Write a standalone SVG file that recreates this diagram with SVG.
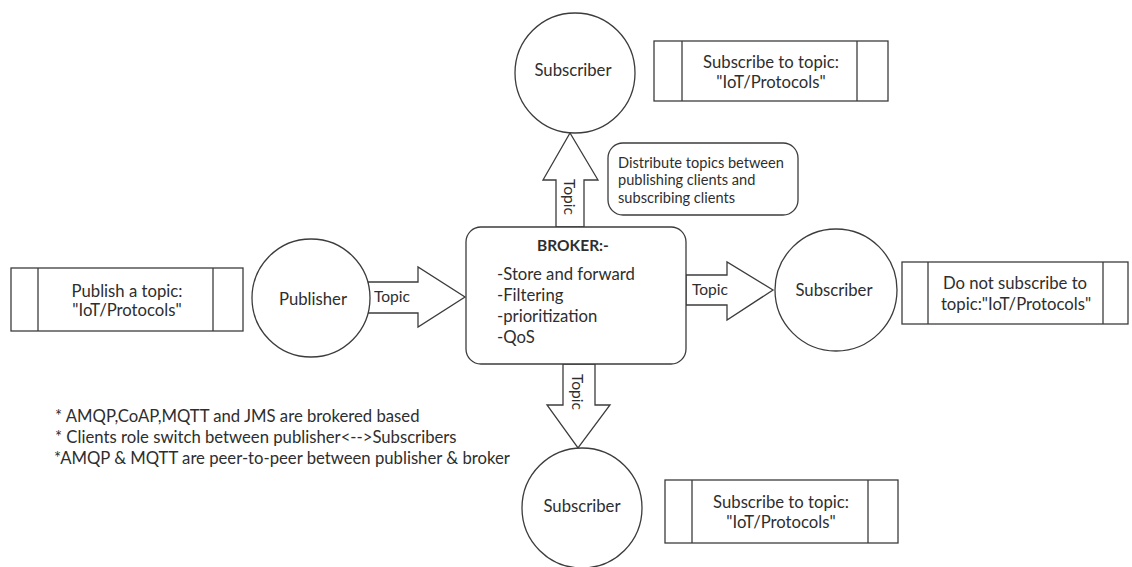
<svg xmlns="http://www.w3.org/2000/svg" width="1132" height="567" viewBox="0 0 1132 567">
  <style>
    .shape { fill: #ffffff; stroke: #3c3c3c; stroke-width: 1.3; }
    .div { stroke: #3c3c3c; stroke-width: 1.3; fill: none; }
    .lbl { font-family: Lato, "Liberation Sans", sans-serif; font-size: 16.7px; fill: #2e2e2e; }
    .mid { text-anchor: middle; }
    .bold { font-weight: bold; font-size: 15.5px; }
    .small { font-size: 14.6px; }
    .tag { font-size: 15.6px; }
  </style>
  <rect width="1132" height="567" fill="#ffffff"/>

  <!-- connectors: block arrows carrying topics -->
  <g id="connectors">
    <g id="arrow-publisher-broker">
      <polygon class="shape" points="368,282 418,282 418,267 465,297 418,327 418,313 368,313"/>
      <text class="lbl tag mid" x="392" y="302">Topic</text>
    </g>
    <g id="arrow-broker-right">
      <polygon class="shape" points="686,275 727,275 727,262 773,290 727,320 727,305 686,305"/>
      <text class="lbl tag mid" x="710" y="295">Topic</text>
    </g>
    <g id="arrow-broker-top">
      <polygon class="shape" points="556,227 556,180 543,180 570,133 598,180 584,180 584,227"/>
      <text class="lbl tag mid" transform="translate(564,197) rotate(90)">Topic</text>
    </g>
    <g id="arrow-broker-bottom">
      <polygon class="shape" points="563,364 563,405 547,405 578,448 610,405 595,405 595,364"/>
      <text class="lbl tag mid" transform="translate(572,392) rotate(90)">Topic</text>
    </g>
  </g>

  <!-- publishing side -->
  <g id="publish-note">
    <rect class="shape" x="11" y="268" width="232" height="63"/>
    <line class="div" x1="38" y1="268" x2="38" y2="331"/>
    <line class="div" x1="213" y1="268" x2="213" y2="331"/>
    <text class="lbl mid" x="127" y="297">Publish a topic:</text>
    <text class="lbl mid" x="127" y="316">"IoT/Protocols"</text>
  </g>
  <g id="publisher">
    <circle class="shape" cx="311" cy="298" r="59"/>
    <text class="lbl mid" x="313" y="305">Publisher</text>
  </g>

  <!-- broker -->
  <g id="broker">
    <rect class="shape" x="466" y="227" width="220" height="137" rx="15" ry="15"/>
    <text class="lbl mid bold" x="573" y="251">BROKER:-</text>
    <text class="lbl" x="497" y="280">-Store and forward</text>
    <text class="lbl" x="497" y="301">-Filtering</text>
    <text class="lbl" x="497" y="322">-prioritization</text>
    <text class="lbl" x="497" y="343">-QoS</text>
  </g>

  <g id="broker-note">
    <rect class="shape" x="608" y="143" width="190" height="72" rx="15" ry="15"/>
    <text class="lbl small" x="618" y="168">Distribute topics between</text>
    <text class="lbl small" x="618" y="185">publishing clients and</text>
    <text class="lbl small" x="618" y="203">subscribing clients</text>
  </g>

  <!-- subscribers -->
  <g id="subscriber-top">
    <circle class="shape" cx="575" cy="73" r="60"/>
    <text class="lbl mid" x="573" y="76">Subscriber</text>
  </g>
  <g id="subscribe-note-top">
    <rect class="shape" x="654" y="41" width="234" height="60"/>
    <line class="div" x1="682" y1="41" x2="682" y2="101"/>
    <line class="div" x1="857" y1="41" x2="857" y2="101"/>
    <text class="lbl mid" x="771" y="68">Subscribe to topic:</text>
    <text class="lbl mid" x="771" y="88">"IoT/Protocols"</text>
  </g>

  <g id="subscriber-right">
    <circle class="shape" cx="836" cy="290" r="61"/>
    <text class="lbl mid" x="834" y="296">Subscriber</text>
  </g>
  <g id="no-subscribe-note">
    <rect class="shape" x="902" y="262" width="226" height="62"/>
    <line class="div" x1="928" y1="262" x2="928" y2="324"/>
    <line class="div" x1="1103" y1="262" x2="1103" y2="324"/>
    <text class="lbl mid" x="1015" y="289">Do not subscribe to</text>
    <text class="lbl mid" x="1016" y="310">topic:"IoT/Protocols"</text>
  </g>

  <g id="subscriber-bottom">
    <circle class="shape" cx="582" cy="508" r="60"/>
    <text class="lbl mid" x="582" y="512">Subscriber</text>
  </g>
  <g id="subscribe-note-bottom">
    <rect class="shape" x="665" y="480" width="233" height="63"/>
    <line class="div" x1="692" y1="480" x2="692" y2="543"/>
    <line class="div" x1="868" y1="480" x2="868" y2="543"/>
    <text class="lbl mid" x="781" y="508">Subscribe to topic:</text>
    <text class="lbl mid" x="781" y="528">"IoT/Protocols"</text>
  </g>

  <!-- footnotes -->
  <g id="notes">
    <text class="lbl" x="55" y="422">* AMQP,CoAP,MQTT and JMS are brokered based</text>
    <text class="lbl" x="55" y="443">* Clients role switch between publisher&lt;--&gt;Subscribers</text>
    <text class="lbl" x="54" y="464">*AMQP &amp; MQTT are peer-to-peer between publisher &amp; broker</text>
  </g>
</svg>
